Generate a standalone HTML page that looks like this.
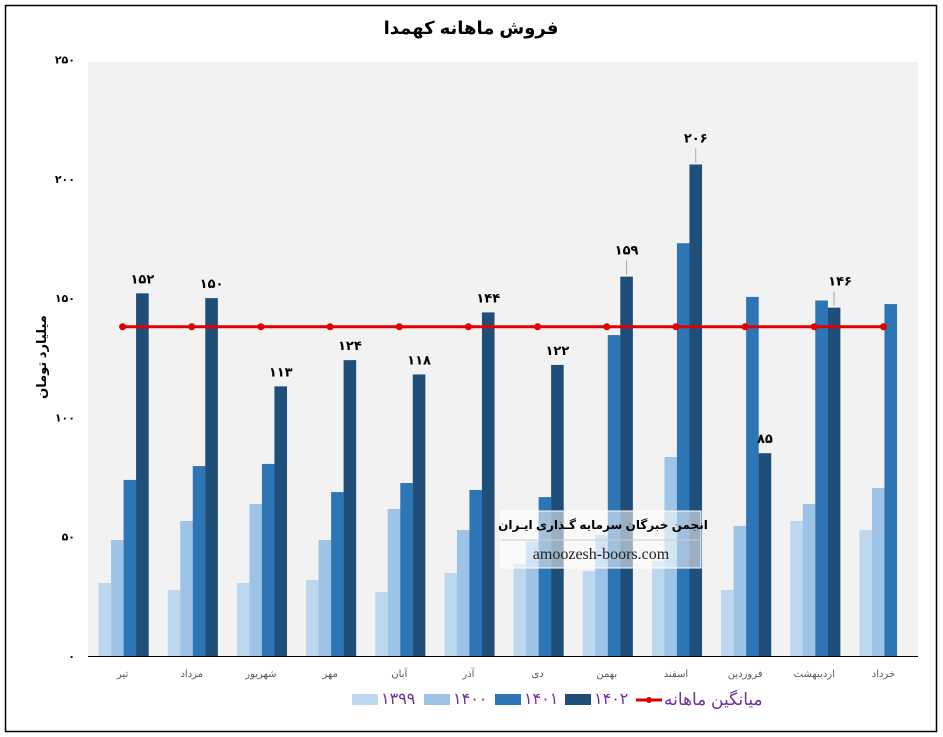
<!DOCTYPE html>
<html><head><meta charset="utf-8"><style>
body{margin:0;background:#fff;}
svg{display:block;font-family:"Liberation Sans","DejaVu Sans",sans-serif;}
</style></head><body>
<svg id="s" width="943" height="737" xmlns="http://www.w3.org/2000/svg">
<rect x="0" y="0" width="943" height="737" fill="#fff"/>
<rect x="5.5" y="5.5" width="931" height="726" fill="none" stroke="#000" stroke-width="1.5"/>
<text x="471" y="34" text-anchor="middle" font-size="18" font-weight="bold" fill="#000">فروش ماهانه کهمدا</text>
<rect x="88" y="62" width="830" height="594" fill="#f2f2f2"/>
<g id="bars"></g>
<line x1="88" y1="656.5" x2="918" y2="656.5" stroke="#000" stroke-width="1"/>
<text transform="translate(46,357) rotate(-90)" text-anchor="middle" font-size="13" font-weight="bold" fill="#000">میلیارد تومان</text>
<g id="leg" font-size="16" fill="#7030a0">
<rect x="352" y="694" width="26" height="11" fill="#bdd7ee"/><text x="381" y="704">۱۳۹۹</text>
<rect x="424" y="694" width="26" height="11" fill="#9dc3e6"/><text x="453" y="704">۱۴۰۰</text>
<rect x="495" y="694" width="26" height="11" fill="#2e75b6"/><text x="524" y="704">۱۴۰۱</text>
<rect x="565" y="694" width="26" height="11" fill="#1f4e79"/><text x="594" y="704">۱۴۰۲</text>
<line x1="636" y1="700" x2="662" y2="700" stroke="#e00000" stroke-width="3"/><circle cx="649" cy="700" r="3" fill="#e00000"/>
<text x="664" y="705" font-size="17">میانگین ماهانه</text>
</g>
</svg>
<script>
var d=[["تیر",30.6,48.6,73.8,152],["مرداد",27.7,56.6,79.6,150],["شهریور",30.6,63.7,80.5,113],["مهر",31.9,48.6,68.7,124],["آبان",26.8,61.6,72.5,118],["آذر",34.8,52.8,69.6,144],["دی",38.6,48,66.6,122],["بهمن",35.6,50.7,134.5,159],["اسفند",40,83.4,173,206],["فروردین",27.7,54.5,150.5,85],["اردیبهشت",56.6,63.7,149,146],["خرداد",52.8,70.4,147.5,null]];
var cols=["#bdd7ee","#9dc3e6","#2e75b6","#1f4e79"],off=[-24,-11.5,1,13.5];
function Y(v){return 656-v*2.386;}
function fa(n){return String(n).replace(/\d/g,function(c){return "۰۱۲۳۴۵۶۷۸۹"[c];});}
var h="";
for(var k=0;k<=5;k++){h+='<text x="75" y="'+(Y(k*50)+4)+'" text-anchor="end" font-size="11" font-weight="bold">'+fa(k*50)+'</text>';}
var cx=[];
d.forEach(function(r,i){var c=88+69.17*(i+0.5);cx.push(c);
for(var j=0;j<4;j++){var v=r[j+1];if(v==null)continue;h+='<rect x="'+(c+off[j])+'" y="'+Y(v)+'" width="12.6" height="'+(v*2.386)+'" fill="'+cols[j]+'"/>';}
h+='<text x="'+c+'" y="677" text-anchor="middle" font-size="10" fill="#595959">'+r[0]+'</text>';
if(r[4]!=null){var bx=c+off[3]+6.3,ty=Y(r[4]);var lead=(i==7||i==8||i==10);
var ly=lead?ty-22:ty-10; if(lead)h+='<line x1="'+bx+'" y1="'+(ty-2)+'" x2="'+bx+'" y2="'+(ty-16)+'" stroke="#a6a6a6"/>';
h+='<text x="'+(bx+(i==10?6:0))+'" y="'+ly+'" text-anchor="middle" font-size="13" font-weight="bold">'+fa(r[4])+'</text>';}
});
var ay=Y(138);
h+='<line x1="'+cx[0]+'" y1="'+ay+'" x2="'+cx[11]+'" y2="'+ay+'" stroke="#e00000" stroke-width="3"/>';
cx.forEach(function(c){h+='<circle cx="'+c+'" cy="'+ay+'" r="3.5" fill="#e00000"/>';});
h+='<rect x="501" y="511" width="200" height="57" fill="#ffffff" fill-opacity="0.55" stroke="#fff"/>';
h+='<line x1="501" y1="540" x2="701" y2="540" stroke="#ccc"/>';
h+='<text x="603" y="529" text-anchor="middle" font-size="12" font-weight="bold">انجمن خبرگان سرمایه گـذاری ایـران</text>';
h+='<text x="601" y="559" text-anchor="middle" font-size="16" font-family="Liberation Serif,serif" fill="#222">amoozesh-boors.com</text>';
document.getElementById("bars").innerHTML=h;
</script>
</body></html>
